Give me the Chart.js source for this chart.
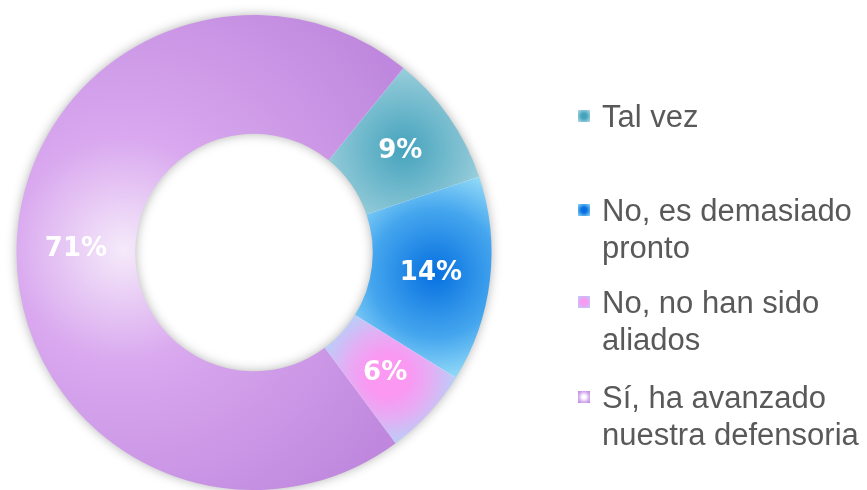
<!DOCTYPE html>
<html>
<head>
<meta charset="utf-8">
<script src="https://cdn.jsdelivr.net/npm/chart.js@4.4.0/dist/chart.umd.min.js"></script>
<style>
  html, body { margin: 0; padding: 0; background: #fff; overflow: hidden; }
  #wrap { position: relative; width: 867px; height: 490px; }
  #chart { position: absolute; left: 0; top: 0; }
  .item { position: absolute; left: 602px; width: 265px; font-family: "Liberation Sans", Arial, sans-serif;
          font-size: 31px; line-height: 37px; color: #595959; }
  .mark { position: absolute; left: -24px; top: 12px; width: 12px; height: 12px; }
</style>
</head>
<body>
<div id="wrap">
  <canvas id="chart" width="867" height="490"></canvas>
  <div id="legend"></div>
</div>
<script>
// chart data
const labels = ['Tal vez', 'No, es demasiado pronto', 'No, no han sido aliados', 'Sí, ha avanzado nuestra defensoria'];
const values = [9, 14, 6, 71];

// gradient colours per slice: [centre, middle, edge]
const sliceColors = [
  ['#45a3bd', '#86c4d4', '#b8dfe7'],
  ['#0670e0', '#45a6ee', '#95dcf8'],
  ['#fa98f2', '#e4aef4', '#b4d2f8'],
  ['#f5eafa', '#d9a8ef', '#bf88de']
];
const legendTops = [98, 192, 284, 379];

const ROTATION = 39;
const CUTOUT = 0.5;

function sliceGeom(chart, i) {
  const a = chart.chartArea;
  const cx = (a.left + a.right) / 2, cy = (a.top + a.bottom) / 2;
  const R = Math.min(a.right - a.left, a.bottom - a.top) / 2;
  const total = values.reduce((s, v) => s + v, 0);
  let start = (ROTATION - 90) * Math.PI / 180;
  for (let k = 0; k < i; k++) start += values[k] / total * Math.PI * 2;
  const end = start + values[i] / total * Math.PI * 2;
  return { cx, cy, R, r0: R * CUTOUT, mid: (start + end) / 2 };
}

function sliceFill(c) {
  const chart = c.chart;
  const i = c.dataIndex;
  const col = sliceColors[i];
  if (!chart.chartArea) return col[1];
  const g = sliceGeom(chart, i);
  const ctx = chart.ctx;
  let rr, rad;
  if (i === 3) { rr = g.R * 0.55; rad = g.R * 1.35; }
  else if (i === 2) { rr = (g.R + g.r0) / 2 + 4; rad = g.R * 0.3; }
  else { rr = (g.R + g.r0) / 2 + 4; rad = g.R * 0.45; }
  const x = g.cx + Math.cos(g.mid) * rr, y = g.cy + Math.sin(g.mid) * rr;
  const grad = ctx.createRadialGradient(x, y, 0, x, y, rad);
  grad.addColorStop(0, col[0]);
  if (i === 2) grad.addColorStop(0.3, col[0]);
  grad.addColorStop(i === 3 ? 0.35 : 0.6, col[1]);
  grad.addColorStop(1, col[2]);
  return grad;
}

const ringShadow = {
  id: 'ringShadow',
  beforeDatasetsDraw(chart) {
    const g = sliceGeom(chart, 0);
    const ctx = chart.ctx;
    ctx.save();
    ctx.shadowColor = 'rgba(0,0,0,0.35)';
    ctx.shadowBlur = 12;
    ctx.fillStyle = '#ffffff';
    ctx.beginPath();
    ctx.arc(g.cx, g.cy, g.R - 1, 0, Math.PI * 2);
    ctx.arc(g.cx, g.cy, g.r0 + 1, 0, Math.PI * 2, true);
    ctx.fill();
    ctx.restore();
  }
};

const sliceLabels = {
  id: 'sliceLabels',
  afterDatasetsDraw(chart) {
    const ctx = chart.ctx;
    ctx.save();
    ctx.fillStyle = '#ffffff';
    ctx.font = 'bold 26px "DejaVu Sans"';
    ctx.textAlign = 'center';
    ctx.textBaseline = 'middle';
    chart.getDatasetMeta(0).data.forEach((arc, i) => {
      const p = arc.getCenterPoint();
      ctx.fillText(values[i] + '%', p.x, p.y);
    });
    ctx.restore();
  }
};

new Chart(document.getElementById('chart'), {
  type: 'doughnut',
  data: {
    labels: labels,
    datasets: [{ data: values, backgroundColor: sliceFill, borderWidth: 0 }]
  },
  options: {
    responsive: false,
    animation: false,
    events: [],
    rotation: ROTATION,
    cutout: (CUTOUT * 100) + '%',
    layout: { padding: { left: 15, top: 15, right: 374, bottom: -3 } },
    plugins: { legend: { display: false }, tooltip: { enabled: false } }
  },
  plugins: [ringShadow, sliceLabels]
});

// html legend
const legend = document.getElementById('legend');
labels.forEach((lab, i) => {
  const d = document.createElement('div');
  d.className = 'item';
  d.style.top = legendTops[i] + 'px';
  const m = document.createElement('span');
  m.className = 'mark';
  const c = sliceColors[i];
  m.style.background = i === 3
    ? 'radial-gradient(circle, #ffffff 20%, #d8b0f0 60%, #b884dc 100%)'
    : 'radial-gradient(circle, ' + c[0] + ' 30%, ' + c[2] + ' 100%)';
  d.appendChild(m);
  d.appendChild(document.createTextNode(lab));
  legend.appendChild(d);
});
</script>
</body>
</html>
